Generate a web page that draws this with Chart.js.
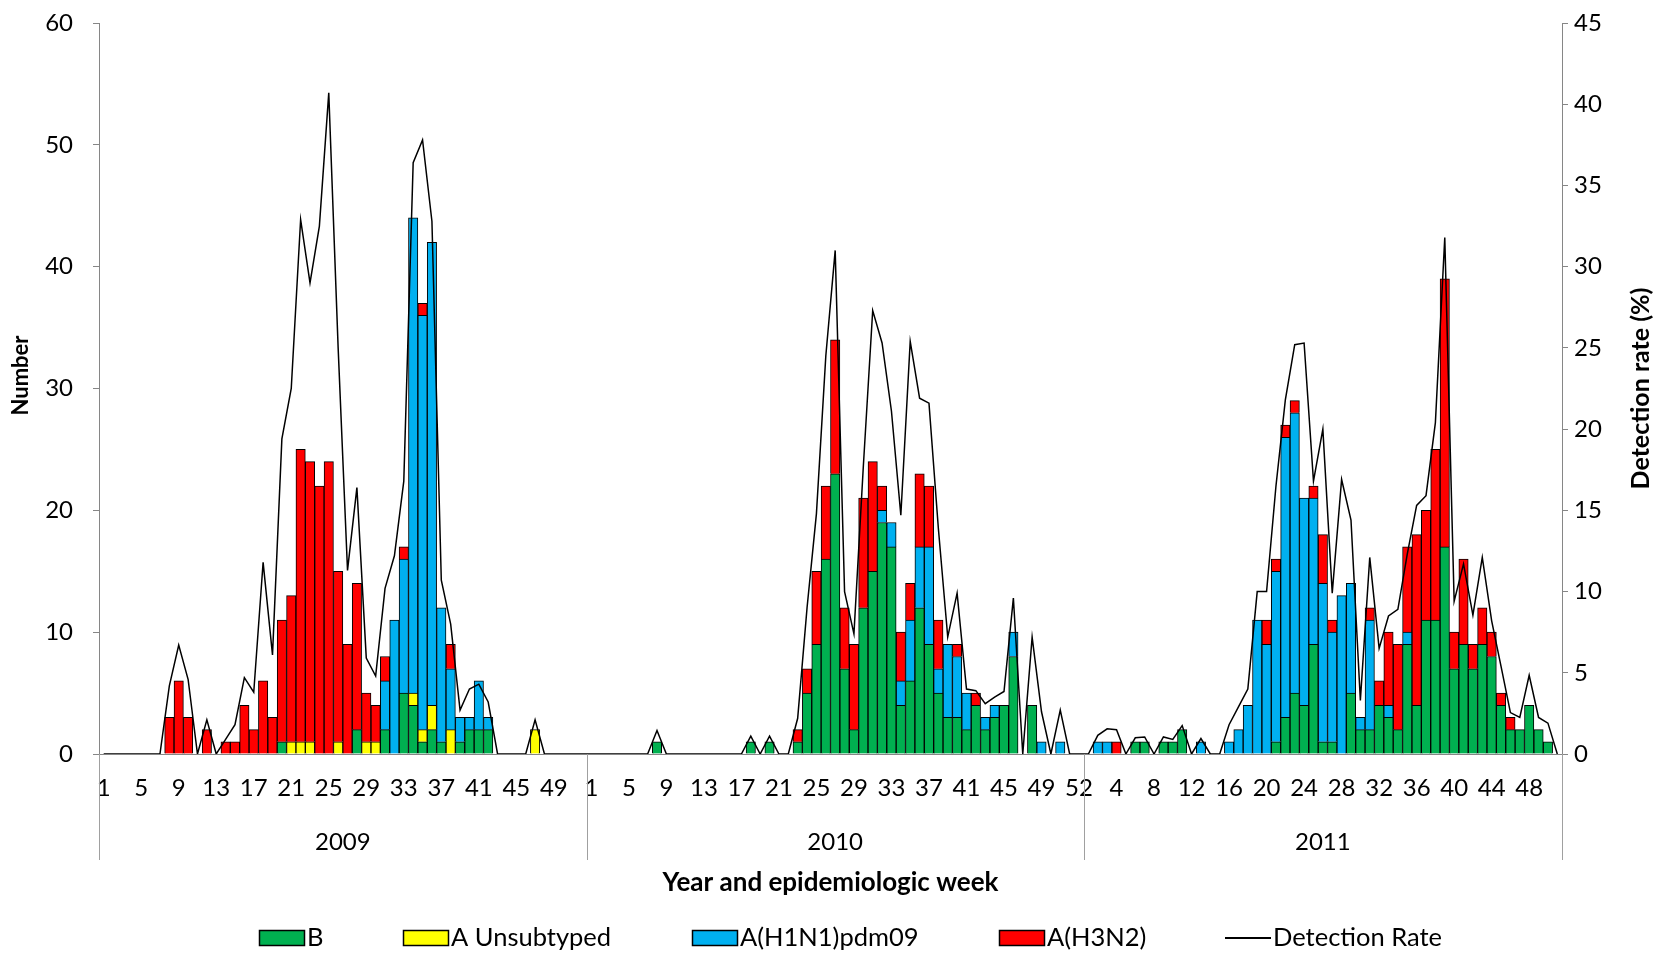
<!DOCTYPE html>
<html>
<head>
<meta charset="utf-8">
<script src="https://cdn.jsdelivr.net/npm/chart.js@4.4.1/dist/chart.umd.min.js"></script>
<style>
  html, body { margin: 0; padding: 0; background: #fff; }
</style>
</head>
<body>
<canvas id="grafico" width="1656" height="955"></canvas>
<script>
const years = ['2009', '2010', '2011'];

const weeks2009 = Array.from({ length: 52 }, (_, i) => String(i + 1));
const weeks2010 = [...Array.from({ length: 52 }, (_, i) => String(i + 1)), '52'];
const weeks2011 = Array.from({ length: 51 }, (_, i) => String(i + 1));

// B
const b2009 = [
  0,0,0,0,0,0,0,0,0,0, 0,0,0,0,0,0,0,0,0,1, 0,0,0,0,0,0,0,2,0,0,
  2,0,5,4,1,2,1,0,1,2, 2,2,0,0,0,0,0,0,0,0, 0,0];
const b2010 = [
  0,0,0,0,0,0,0,1,0,0, 0,0,0,0,0,0,0,1,0,1, 0,0,1,5,9,16,23,7,2,12,
  15,19,17,4,6,12,9,5,3,3, 2,4,2,3,4,8,0,4,0,0, 0,0,0];
const b2011 = [
  0,0,0,0,0,1,1,0,1,1, 2,0,0,0,0,0,0,0,0,0, 1,3,5,4,9,1,1,0,5,2,
  2,4,3,2,9,4,11,11,17,7, 9,7,9,8,4,2,2,4,2,1, 0];

// A sin subtipo
const uns2009 = [
  0,0,0,0,0,0,0,0,0,0, 0,0,0,0,0,0,0,0,0,0, 1,1,1,0,0,1,0,0,1,1,
  0,0,0,1,1,2,0,2,0,0, 0,0,0,0,0,0,2,0,0,0, 0,0];
const uns2010 = [
  0,0,0,0,0,0,0,0,0,0, 0,0,0,0,0,0,0,0,0,0, 0,0,0,0,0,0,0,0,0,0,
  0,0,0,0,0,0,0,0,0,0, 0,0,0,0,0,0,0,0,0,0, 0,0,0];
const uns2011 = [
  0,0,0,0,0,0,0,0,0,0, 0,0,0,0,0,0,0,0,0,0, 0,0,0,0,0,0,0,0,0,0,
  0,0,0,0,0,0,0,0,0,0, 0,0,0,0,0,0,0,0,0,0, 0];

// A(H1N1)pdm09
const h1n1_2009 = [
  0,0,0,0,0,0,0,0,0,0, 0,0,0,0,0,0,0,0,0,0, 0,0,0,0,0,0,0,0,0,0,
  4,11,11,39,34,38,11,5,2,1, 4,1,0,0,0,0,0,0,0,0, 0,0];
const h1n1_2010 = [
  0,0,0,0,0,0,0,0,0,0, 0,0,0,0,0,0,0,0,0,0, 0,0,0,0,0,0,0,0,0,0,
  0,1,2,2,5,5,8,2,6,5, 3,0,1,1,0,2,0,0,1,0, 1,0,0];
const h1n1_2011 = [
  0,1,1,0,0,0,0,0,0,0, 0,0,1,0,0,1,2,4,11,9, 14,23,23,17,12,13,9,13,9,1,
  9,0,1,0,1,0,0,0,0,0, 0,0,0,0,0,0,0,0,0,0, 0];

// A(H3N2)
const h3n2_2009 = [
  0,0,0,0,0,0,0,3,6,3, 0,2,0,1,1,4,2,6,3,10, 12,24,23,22,24,14,9,12,4,3,
  2,0,1,0,1,0,0,2,0,0, 0,0,0,0,0,0,0,0,0,0, 0,0];
const h3n2_2010 = [
  0,0,0,0,0,0,0,0,0,0, 0,0,0,0,0,0,0,0,0,0, 0,0,1,2,6,6,11,5,7,9,
  9,2,0,4,3,6,5,4,0,1, 0,1,0,0,0,0,0,0,0,0, 0,0,0];
const h3n2_2011 = [
  0,0,0,1,0,0,0,0,0,0, 0,0,0,0,0,0,0,0,0,2, 1,1,1,0,1,4,1,0,0,0,
  1,2,6,7,7,14,9,14,22,3, 7,2,3,2,1,1,0,0,0,0, 0];

// tasa de deteccion (%)
const rate2009 = [
  0,0,0,0,0,0,0,4.2,6.7,4.6, 0,2.1,0,0.9,1.8,4.7,3.8,11.8,6.1,19.4,
  22.5,32.9,29.0,32.5,40.7,25.0,11.3,16.4,5.9,4.8,
  10.2,12.2,16.8,36.4,37.8,32.8,10.7,8.0,2.7,4.0,
  4.3,3.2,0,0,0,0,2.1,0,0,0, 0,0];
const rate2010 = [
  0,0,0,0,0,0,0,1.45,0,0, 0,0,0,0,0,0,0,1.1,0,1.1,
  0,0,2.2,9.0,14.8,24.5,31.0,10.0,7.4,17.7,
  27.3,25.3,21.1,14.7,25.4,21.9,21.6,13.9,7.2,9.9,
  4.0,3.9,3.1,3.5,3.85,9.6,0,7.2,2.6,0, 2.7,0,0];
const rate2011 = [
  0,1.15,1.55,1.5,0,1.0,1.05,0,1.05,0.9, 1.75,0,0.95,0,0,1.8,2.9,4.0,10.0,10.0,
  16.5,21.8,25.2,25.3,16.8,20.0,9.9,16.9,14.4,3.3,
  12.1,6.5,8.5,8.9,12.3,15.3,15.9,20.4,31.8,9.4,
  11.7,8.55,12.1,8.2,5.4,2.55,2.25,4.85,2.25,1.9, 0];

const leftTicks = [0, 10, 20, 30, 40, 50, 60];
const rightTicks = [0, 5, 10, 15, 20, 25, 30, 35, 40, 45];

const yearWeeks = [weeks2009, weeks2010, weeks2011];
const weekLabels = [...weeks2009, ...weeks2010, ...weeks2011];

const FONT = "Lato, 'Liberation Sans', sans-serif";
Chart.defaults.font.family = FONT;
Chart.defaults.color = '#000';

const barStyle = {
  borderColor: '#000', borderWidth: 1, barPercentage: 1, categoryPercentage: 1, order: 1
};

// eje de años + separadores
const yearAxis = {
  id: 'yearAxis',
  afterDraw(chart) {
    const { ctx, chartArea, scales: { x } } = chart;
    const half = (x.getPixelForValue(1) - x.getPixelForValue(0)) / 2;
    const y0 = chartArea.bottom, y1 = chartArea.bottom + 106;
    ctx.save();
    ctx.strokeStyle = '#a0a0a0';
    ctx.lineWidth = 1;
    ctx.fillStyle = '#000';
    ctx.font = '24px ' + FONT;
    ctx.textAlign = 'center';
    ctx.textBaseline = 'middle';
    let start = 0;
    const vline = px => {
      const xx = Math.round(px) + 0.5;
      ctx.beginPath(); ctx.moveTo(xx, y0); ctx.lineTo(xx, y1); ctx.stroke();
    };
    yearWeeks.forEach((w, k) => {
      const a = x.getPixelForValue(start) - half;
      const b = x.getPixelForValue(start + w.length - 1) + half;
      vline(a);
      ctx.fillText(years[k], (a + b) / 2, 842);
      start += w.length;
      if (k === yearWeeks.length - 1) vline(b);
    });
    ctx.restore();
  }
};

// titulos de los ejes verticales (ambos de abajo hacia arriba)
const axisTitles = {
  id: 'axisTitles',
  afterDraw(chart) {
    const { ctx, chartArea } = chart;
    const mid = (chartArea.top + chartArea.bottom) / 2;
    ctx.save();
    ctx.fillStyle = '#000';
    ctx.textAlign = 'center';
    ctx.textBaseline = 'middle';
    [[21, mid - 13, 'Number', 22], [1641, mid, 'Detection rate (%)', 25]].forEach(([px, py, t, size]) => {
      ctx.save();
      ctx.font = 'bold ' + size + 'px ' + FONT;
      ctx.translate(px, py);
      ctx.rotate(-Math.PI / 2);
      ctx.fillText(t, 0, 0);
      ctx.restore();
    });
    ctx.restore();
  }
};

// leyenda abajo, como en Excel (caja pegada al texto)
const legendRow = {
  id: 'legendRow',
  afterDraw(chart) {
    const { ctx } = chart;
    const startX = [259, 403, 692, 999, 1225];
    const y = 938;
    ctx.save();
    ctx.font = '25.5px ' + FONT;
    ctx.textBaseline = 'middle';
    ctx.textAlign = 'left';
    chart.data.datasets.forEach((ds, i) => {
      const x = startX[i];
      if (ds.type === 'line') {
        ctx.strokeStyle = ds.borderColor;
        ctx.lineWidth = 2;
        ctx.beginPath(); ctx.moveTo(x, y); ctx.lineTo(x + 46, y); ctx.stroke();
      } else {
        ctx.fillStyle = ds.backgroundColor;
        ctx.fillRect(x, y - 8, 46, 16);
        ctx.strokeStyle = '#000';
        ctx.lineWidth = 1.5;
        ctx.strokeRect(x + 0.5, y - 7.5, 45, 15);
      }
      ctx.fillStyle = '#000';
      ctx.fillText(ds.label, x + 48, y);
    });
    ctx.restore();
  }
};

const noVertPad = s => { s.paddingTop = 0; s.paddingBottom = 0; };

new Chart(document.getElementById('grafico'), {
  type: 'bar',
  data: {
    labels: weekLabels,
    datasets: [
      { label: 'B', data: [...b2009, ...b2010, ...b2011], backgroundColor: '#00B050', ...barStyle },
      { label: 'A Unsubtyped', data: [...uns2009, ...uns2010, ...uns2011], backgroundColor: '#FFFF00', ...barStyle },
      { label: 'A(H1N1)pdm09', data: [...h1n1_2009, ...h1n1_2010, ...h1n1_2011], backgroundColor: '#00B0F0', ...barStyle },
      { label: 'A(H3N2)', data: [...h3n2_2009, ...h3n2_2010, ...h3n2_2011], backgroundColor: '#FF0000', ...barStyle },
      {
        type: 'line', label: 'Detection Rate', data: [...rate2009, ...rate2010, ...rate2011],
        yAxisID: 'y1', borderColor: '#000', backgroundColor: '#000', borderWidth: 1.5,
        pointRadius: 0, tension: 0, fill: false, order: 0
      }
    ]
  },
  options: {
    responsive: false,
    animation: false,
    layout: { padding: { left: 44, right: 0, top: 23, bottom: 97 } },
    plugins: {
      tooltip: { enabled: false },
      legend: { display: false }
    },
    scales: {
      x: {
        stacked: true,
        grid: { display: false },
        border: { color: '#868686' },
        ticks: {
          autoSkip: false, maxRotation: 0, minRotation: 0, padding: 12,
          font: { size: 24 }, color: '#000',
          callback: (v, i) => (i % 4 === 0 ? weekLabels[i] : '')
        },
        title: {
          display: true, text: 'Year and epidemiologic week', color: '#000',
          font: { size: 26, weight: 'bold' }, padding: { top: 0, bottom: -40 }
        },
        afterFit: s => { s.height = 104; }
      },
      y: {
        stacked: true, min: leftTicks[0], max: leftTicks[leftTicks.length - 1],
        afterBuildTicks: s => { s.ticks = leftTicks.map(v => ({ value: v })); },
        ticks: { padding: 20, font: { size: 24 }, color: '#000' },
        grid: { drawOnChartArea: false, tickLength: 6, color: '#868686' },
        border: { color: '#868686' },
        afterFit: s => { s.width = 55; noVertPad(s); }
      },
      y1: {
        position: 'right', min: rightTicks[0], max: rightTicks[rightTicks.length - 1],
        afterBuildTicks: s => { s.ticks = rightTicks.map(v => ({ value: v })); },
        ticks: { padding: 6, font: { size: 24 }, color: '#000' },
        grid: { drawOnChartArea: false, tickLength: 6, color: '#868686' },
        border: { color: '#868686' },
        afterFit: s => { s.width = 94; noVertPad(s); }
      }
    }
  },
  plugins: [yearAxis, axisTitles, legendRow]
});
</script>
</body>
</html>
